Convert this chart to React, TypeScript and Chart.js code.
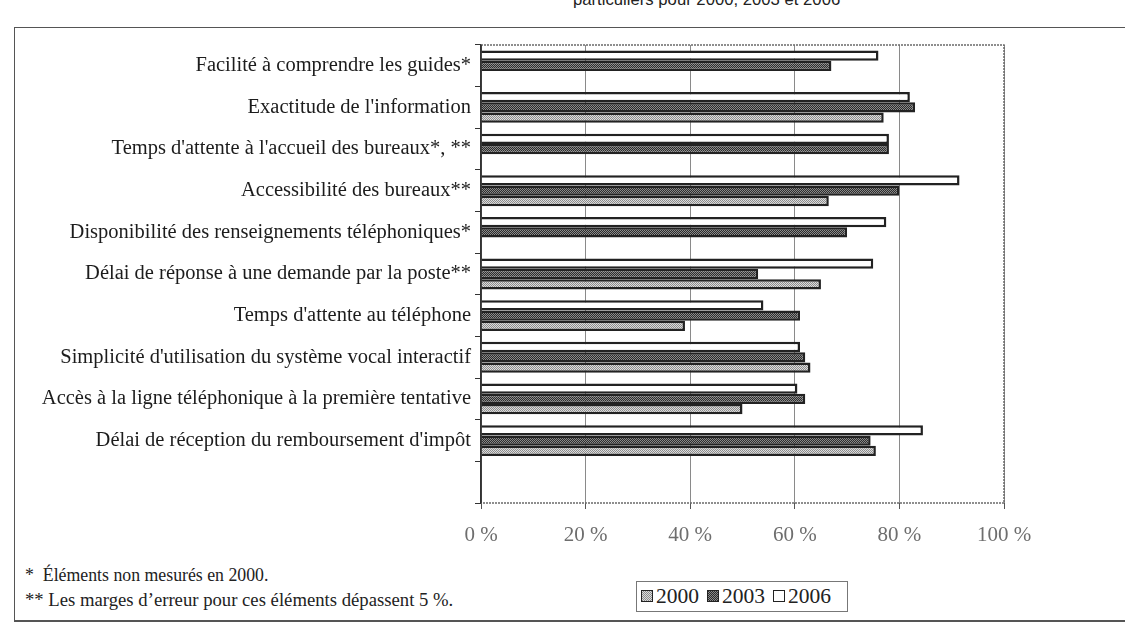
import React, { useEffect, useRef } from 'react';
import { Chart, registerables } from 'chart.js';

Chart.register(...registerables);

const categories = [
  "Facilité à comprendre les guides*",
  "Exactitude de l'information",
  "Temps d'attente à l'accueil des bureaux*, **",
  "Accessibilité des bureaux**",
  "Disponibilité des renseignements téléphoniques*",
  "Délai de réponse à une demande par la poste**",
  "Temps d'attente au téléphone",
  "Simplicité d'utilisation du système vocal interactif",
  "Accès à la ligne téléphonique à la première tentative",
  "Délai de réception du remboursement d'impôt",
  "",
];

const values2000 = [null, 77, null, 66.5, null, 65, 39, 63, 50, 75.5, null];
const values2003 = [67, 83, 78, 80, 70, 53, 61, 62, 62, 74.5, null];
const values2006 = [76, 82, 78, 91.5, 77.5, 75, 54, 61, 60.5, 84.5, null];

const seriesLabels = ['2000', '2003', '2006'];
const xTicks = [0, 20, 40, 60, 80, 100];

const footnote1 = '*  Éléments non mesurés en 2000.';
const footnote2 = '** Les marges d\u2019erreur pour ces éléments dépassent 5 %.';
const titleFragment = 'particuliers pour 2000, 2003 et 2006';

const SERIF = "'Liberation Serif', 'Times New Roman', serif";

function makePattern(a: string, b: string): CanvasPattern | string {
  const c = document.createElement('canvas');
  c.width = 2;
  c.height = 2;
  const ctx = c.getContext('2d');
  if (!ctx) return a;
  ctx.fillStyle = a;
  ctx.fillRect(0, 0, 2, 2);
  ctx.fillStyle = b;
  ctx.fillRect(0, 0, 1, 1);
  ctx.fillRect(1, 1, 1, 1);
  const p = ctx.createPattern(c, 'repeat');
  return p || a;
}

const plotBorder = {
  id: 'plotBorder',
  afterDatasetsDraw(chart: any) {
    const { ctx, chartArea } = chart;
    const { left, right, top, bottom } = chartArea;
    ctx.save();
    ctx.strokeStyle = '#6a6a6a';
    ctx.lineWidth = 1.5;
    ctx.setLineDash([2, 1]);
    ctx.beginPath();
    ctx.moveTo(left, top);
    ctx.lineTo(right, top);
    ctx.lineTo(right, bottom);
    ctx.lineTo(left, bottom);
    ctx.stroke();
    ctx.setLineDash([]);
    ctx.strokeStyle = '#333';
    ctx.lineWidth = 1.5;
    ctx.beginPath();
    ctx.moveTo(left, top);
    ctx.lineTo(left, bottom);
    ctx.stroke();
    ctx.restore();
  },
};

function BarChart() {
  const ref = useRef<HTMLCanvasElement | null>(null);
  useEffect(() => {
    if (!ref.current) return;
    const p2000 = makePattern('#dcdcdc', '#8c8c8c');
    const p2003 = makePattern('#2c2c2c', '#8a8a8a');
    const chart = new Chart(ref.current, {
      type: 'bar',
      data: {
        labels: categories,
        datasets: [
          {
            label: seriesLabels[2],
            data: values2006,
            backgroundColor: '#ffffff',
            borderColor: '#222',
            borderWidth: 2.5,
          },
          {
            label: seriesLabels[1],
            data: values2003,
            backgroundColor: p2003 as any,
            borderColor: '#222',
            borderWidth: 2.5,
          },
          {
            label: seriesLabels[0],
            data: values2000,
            backgroundColor: p2000 as any,
            borderColor: '#222',
            borderWidth: 2.5,
          },
        ],
      },
      options: {
        indexAxis: 'y',
        animation: false,
        responsive: false,
        events: [],
        layout: { padding: { top: 45, right: 121, left: 0, bottom: 0 } },
        datasets: {
          bar: { categoryPercentage: 0.74, barPercentage: 1.0 },
        },
        plugins: {
          legend: { display: false },
          tooltip: { enabled: false },
          title: { display: false },
        },
        scales: {
          x: {
            type: 'linear',
            min: 0,
            max: 100,
            afterBuildTicks: (s: any) => {
              s.ticks = xTicks.map((v) => ({ value: v }));
            },
            afterFit: (s: any) => {
              s.height = 57;
            },
            ticks: {
              callback: (v: any) => `${v} %`,
              font: { family: SERIF, size: 21 },
              color: '#6e6e6e',
              padding: 14,
              maxRotation: 0,
            },
            grid: {
              color: '#8a8a8a',
              lineWidth: 1,
              drawTicks: true,
              tickLength: 6,
              tickColor: '#555',
            },
            border: { display: false },
          },
          y: {
            type: 'category',
            afterFit: (s: any) => {
              s.width = 481;
            },
            ticks: {
              font: { family: SERIF, size: 20.5 },
              color: '#1c1c1c',
              padding: 4,
              autoSkip: false,
            },
            grid: {
              display: true,
              drawOnChartArea: false,
              offset: true,
              tickLength: 6,
              color: '#333',
            },
            border: { display: true, color: '#333', width: 1.5 },
          },
        },
      },
      plugins: [plotBorder],
    });
    return () => chart.destroy();
  }, []);
  return (
    <canvas
      ref={ref}
      width={1125}
      height={560}
      style={{ position: 'absolute', left: 0, top: 0, width: 1125, height: 560 }}
    />
  );
}

const swatchStyle = (bg: string): React.CSSProperties => ({
  display: 'inline-block',
  width: 10,
  height: 10,
  border: '1.5px solid #222',
  background: bg,
  marginRight: 3,
  verticalAlign: 'middle',
  position: 'relative',
  top: -2,
});

export default function App() {
  const swatches = [
    'repeating-conic-gradient(#8c8c8c 0 25%, #dcdcdc 0 50%) 0 0/2px 2px',
    'repeating-conic-gradient(#8a8a8a 0 25%, #2c2c2c 0 50%) 0 0/2px 2px',
    '#ffffff',
  ];
  return (
    <div
      style={{
        position: 'fixed',
        left: 0,
        top: 0,
        width: 1125,
        height: 626,
        overflow: 'hidden',
        background: '#ffffff',
      }}
    >
      <div
        style={{
          position: 'absolute',
          left: 573,
          top: -10,
          fontFamily: "'Liberation Sans', Arial, sans-serif",
          fontSize: 16.7,
          color: '#222',
          whiteSpace: 'nowrap',
        }}
      >
        {titleFragment}
      </div>
      <div
        style={{
          position: 'absolute',
          left: 14,
          top: 27,
          width: 1200,
          height: 592,
          borderLeft: '1.5px solid #555',
          borderTop: '1.5px solid #555',
          borderBottom: '2px solid #555',
        }}
      />
      <BarChart />
      <div
        style={{
          position: 'absolute',
          left: 25,
          top: 565,
          fontFamily: SERIF,
          fontSize: 17.8,
          color: '#222',
          whiteSpace: 'pre',
        }}
      >
        {footnote1}
      </div>
      <div
        style={{
          position: 'absolute',
          left: 25,
          top: 589,
          fontFamily: SERIF,
          fontSize: 18.7,
          color: '#222',
          whiteSpace: 'pre',
        }}
      >
        {footnote2}
      </div>
      <div
        style={{
          position: 'absolute',
          left: 636,
          top: 581,
          width: 212,
          height: 31,
          border: '1px solid #777',
          fontFamily: SERIF,
          fontSize: 21.5,
          color: '#222',
          display: 'flex',
          alignItems: 'center',
          justifyContent: 'flex-start',
          paddingLeft: 4,
          gap: 8,
          boxSizing: 'border-box',
        }}
      >
        {seriesLabels.map((s, i) => (
          <span key={s} style={{ whiteSpace: 'nowrap' }}>
            <span style={swatchStyle(swatches[i])} />
            {s}
          </span>
        ))}
      </div>
    </div>
  );
}
